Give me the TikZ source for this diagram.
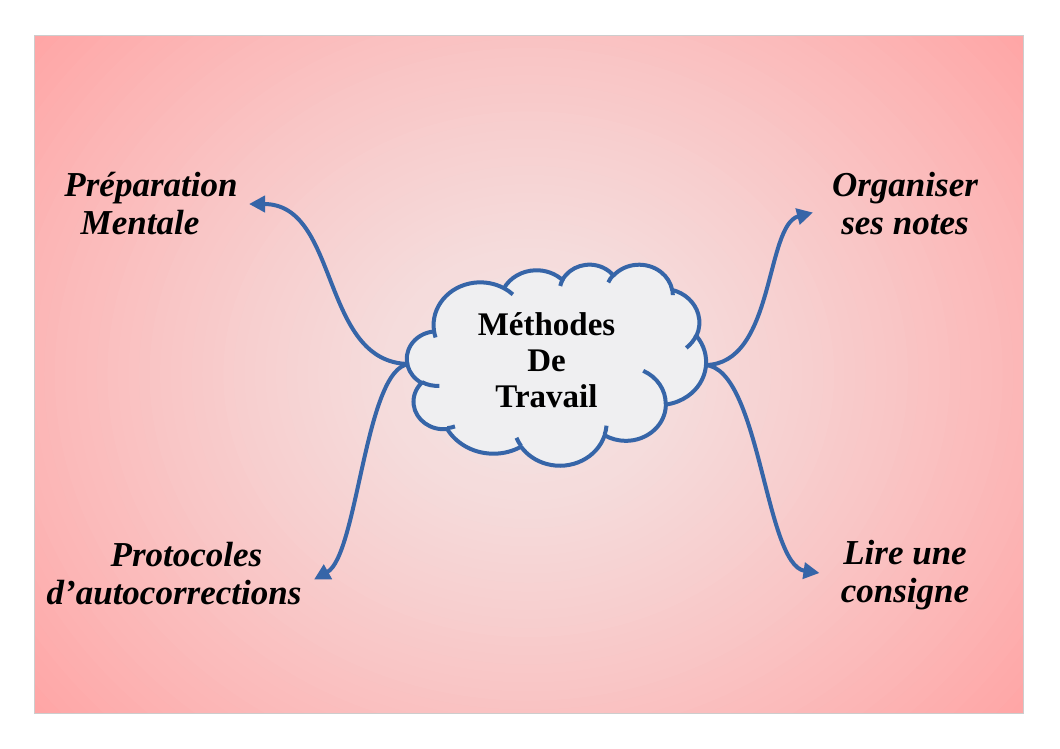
\documentclass[tikz,border=0pt]{standalone}
\usepackage{fontspec}
\setmainfont{Liberation Serif}
\usetikzlibrary{arrows.meta}
\definecolor{lineblue}{RGB}{54,101,168}
\definecolor{cloudfill}{RGB}{239,239,241}
\definecolor{bgin}{RGB}{243,229,229}
\definecolor{bgout}{RGB}{255,166,166}
\definecolor{bordergray}{RGB}{205,205,205}
% Office-style arc: visual angles converted to parametric ones
\newcommand\cldconv[4]{%
  \pgfmathsetmacro\cldS{atan2((#1)*sin(#3),(#2)*cos(#3))}%
  \pgfmathsetmacro\cldE{atan2((#1)*sin((#3)+(#4)),(#2)*cos((#3)+(#4)))}%
  \pgfmathsetmacro\cldD{\cldE-\cldS}%
  \pgfmathsetmacro\cldD{\cldD+360*(\cldD<0)}%
}
\newcommand\cldarc[4]{\pgfextra{\cldconv{#1}{#2}{#3}{#4}} arc[start angle=\cldS, delta angle=\cldD, x radius=#1, y radius=#2]}
\tikzset{
  cloudline/.style={draw=lineblue, line width=4pt, line join=round},
  conn/.style={draw=lineblue, line width=4pt, -{Triangle[length=16pt,width=16pt]}},
  centertext/.style={font=\bfseries\fontsize{33}{36}\selectfont, align=center, inner sep=0pt},
  lab/.style={font=\bfseries\itshape\fontsize{35}{38}\selectfont, align=center, inner sep=0pt},
}
\begin{document}
\begin{tikzpicture}[x=1pt,y=-1pt]
\useasboundingbox (0,0) rectangle (1060,748);
\fill[white] (0,0) rectangle (1060,748);
% background radial gradient
\begin{scope}
\clip (34.5,35.5) rectangle (1023,713);
\fill[bgout] (34.5,35.5) rectangle (1023,713);
\foreach \i [evaluate=\i as \p using {100-100*(\i/60)^1.3}] in {60,59,...,1}
  \fill[bgin!\p!bgout] (528.75,374.25) ellipse [x radius={10.533*\i}, y radius={9.067*\i}];
\end{scope}
\draw[bordergray, line width=1pt] (34.5,35.5) rectangle (1023,713);
% cloud
\begin{scope}[shift={(407,264)}, x=0.69213pt, y=-0.46528pt]
\path[cloudline, fill=cloudfill] (39.00,143.70)
  \cldarc{67.53}{91.90}{-190.4875}{123.7805}
  \cldarc{53.33}{72.67}{-144.1024}{89.9452}
  \cldarc{43.65}{59.45}{-145.8079}{99.7230}
  \cldarc{48.57}{65.95}{-130.9861}{117.2417}
  \cldarc{53.33}{72.73}{-78.7089}{109.0269}
  \cldarc{67.75}{92.20}{-46.2673}{130.2690}
  \cldarc{57.85}{78.67}{0.6250}{114.0333}
  \cldarc{67.52}{92.15}{22.4516}{115.1726}
  \cldarc{77.20}{105.43}{66.2426}{75.7110}
  \cldarc{43.60}{59.18}{-274.9421}{146.7356}
  \cldarc{43.45}{59.45}{-246.8285}{152.5189}
  -- cycle;
\path[cloudline]
  (46.93,261.77) \cldarc{43.45}{59.45}{86.7420}{26.4295}
  (69.28,348.99) \cldarc{43.60}{59.18}{73.6105}{11.4475}
  (164.78,390.90) \cldarc{67.52}{92.15}{137.6242}{14.0811}
  (288.27,347.51) \cldarc{67.52}{92.15}{6.4533}{15.9984}
  (341.29,229.54) \cldarc{57.85}{78.67}{-70.2924}{70.9174}
  (417.98,153.54) \cldarc{53.33}{72.73}{30.3180}{27.7515}
  (383.24,54.26) \cldarc{48.57}{65.95}{-13.7443}{14.8589}
  (290.78,39.52) \cldarc{48.57}{65.95}{-149.1815}{18.1954}
  (221.41,47.20) \cldarc{43.65}{59.45}{-163.4943}{17.6864}
  (140.00,51.92) \cldarc{67.53}{91.90}{-66.7070}{12.3194}
  (41.27,157.89) \cldarc{67.53}{91.90}{157.6544}{11.8582};
\end{scope}
\node[centertext] (mdt) at (546.5,360.5) {Méthodes\\De\\Travail};
\coordinate (cL) at (409,364);
\coordinate (cR) at (705,365);
\coordinate (tTL) at (249,204);
\coordinate (tTR) at (813,212.5);
\coordinate (tBL) at (314,579.5);
\coordinate (tBR) at (819.5,573);
\draw[conn] (cL) .. controls (320,363) and (340,204) .. (tTL);
\draw[conn] (cR) .. controls (775,365) and (765,225) .. (tTR);
\draw[conn] (cL) .. controls (365,368) and (358,555) .. (tBL);
\draw[conn] (cR) .. controls (760,368) and (765,565) .. (tBR);
\node[lab] (prep) at (140,203.6) {\hspace*{22pt}Préparation\\Mentale};
\node[lab] (org) at (905,204) {Organiser\\ses notes};
\node[lab] (proto) at (174,573.3) {\hspace*{25pt}Protocoles\\d’autocorrections};
\node[lab] (lire) at (905,575) {Lire une\\consigne};
\end{tikzpicture}
\end{document}
